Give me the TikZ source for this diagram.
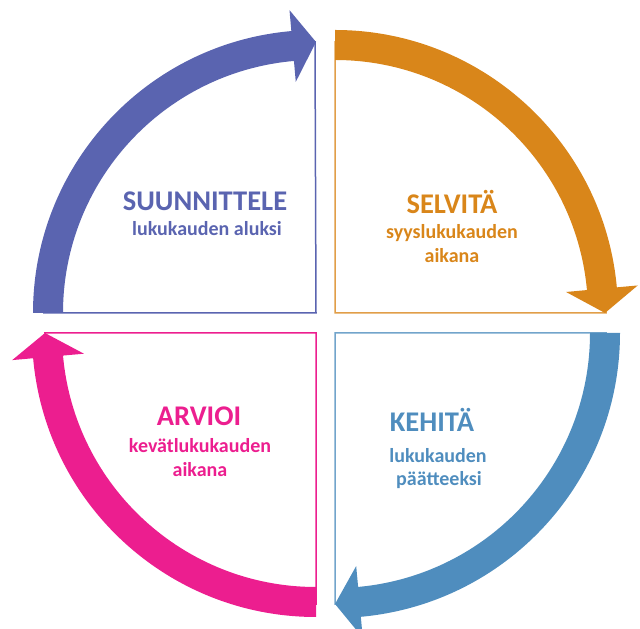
\documentclass[tikz,border=0pt]{standalone}
\usepackage{fontspec}
\setmainfont{Carlito}
\definecolor{cpur}{HTML}{5A64B0}
\definecolor{corg}{HTML}{D9861A}
\definecolor{cblu}{HTML}{4F8DBE}
\definecolor{cpnk}{HTML}{EC1E8F}
\begin{document}
\begin{tikzpicture}[x=1pt,y=1pt,
  ttl/.style={font=\bfseries\fontsize{28.5}{30}\selectfont, anchor=base, inner sep=0pt},
  sub/.style={font=\bfseries\fontsize{20}{22}\selectfont, anchor=base, inner sep=0pt},
  quad/.style={line width=1.5pt}]
\useasboundingbox (0,0) rectangle (640,629);
% quadrant outlines (sectors; the arc lies under the band)
\draw[quad, cpur] (316,316) -- (44,316) arc[start angle=180, end angle=90, radius=271] -- cycle;
\draw[quad, corg!80] (335,316) -- (335,587) arc[start angle=90, end angle=0, radius=271] -- cycle;
\draw[quad, cblu!80] (335,296) -- (606,296) arc[start angle=0, end angle=-90, radius=271] -- cycle;
\draw[quad, cpnk] (316,296) -- (316,25) arc[start angle=-90, end angle=-180, radius=271] -- cycle;
% arrows
\begin{scope}[shift={(316,316)}]
\fill[cpur] (180:283) arc[start angle=180, end angle=95, radius=283] -- (95:304) -- (90:271) -- (95:232) -- (95:253) arc[start angle=95, end angle=180, radius=253] -- cycle;
\end{scope}
\begin{scope}[shift={(335,316)}]
\fill[corg] (90:283) arc[start angle=90, end angle=5.2, radius=283] -- (5.2:304) -- (0:270) -- (5.2:232) -- (5.2:253) arc[start angle=5.2, end angle=90, radius=253] -- cycle;
\end{scope}
\begin{scope}[shift={(335,296)}]
\fill[cblu] (0:285) arc[start angle=0, end angle=-84.8, radius=285] -- (-84.8:306) -- (-90:271) -- (-84.8:234) -- (-84.8:255) arc[start angle=-84.8, end angle=0, radius=255] -- cycle;
\end{scope}
\begin{scope}[shift={(316,296)}]
\fill[cpnk] (-90:284) arc[start angle=-90, end angle=-174.9, radius=284] -- (-174.9:305) -- (-180:271) -- (-174.9:233) -- (-174.9:254) arc[start angle=-174.9, end angle=-90, radius=254] -- cycle;
\end{scope}
% texts
\node[ttl, cpur] (t1) at (205,418) {SUUNNITTELE};
\node[sub, cpur] (s1) at (207,393) {lukukauden aluksi};
\node[ttl, corg] (t2) at (452,415) {SELVITÄ};
\node[sub, corg] (s2a) at (452,390) {syyslukukauden};
\node[sub, corg] (s2b) at (452,366) {aikana};
\node[ttl, cblu] (t3) at (432,197) {KEHITÄ};
\node[sub, cblu] (s3a) at (438,166) {lukukauden};
\node[sub, cblu] (s3b) at (439,143) {päätteeksi};
\node[ttl, cpnk] (t4) at (199,203) {ARVIOI};
\node[sub, cpnk] (s4a) at (200,176) {kevätlukukauden};
\node[sub, cpnk] (s4b) at (200,152) {aikana};
\end{tikzpicture}
\end{document}
